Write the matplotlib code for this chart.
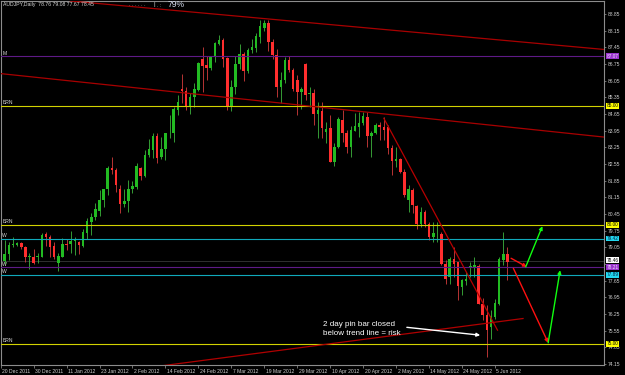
import matplotlib.pyplot as plt
import matplotlib.transforms as mtransforms
import numpy as np

plt.rcParams['font.family'] = ['Liberation Sans', 'DejaVu Sans']

# AUDJPY daily bars, 20 Dec 2011 .. 8 Jun 2012 (one bar per weekday)
opens = [77.20, 78.49, 78.77, 79.13, 79.16, 79.24, 79.05, 78.63, 78.66, 78.64,
         78.63, 79.60, 79.47, 79.10, 78.40, 78.65, 79.20, 79.18, 79.30, 79.26,
         79.10, 79.66, 80.13, 80.31, 80.59, 81.03, 81.48, 82.40, 82.30, 81.50,
         80.87, 81.00, 81.52, 81.60, 82.37, 82.04, 82.92, 83.14, 83.72, 82.85,
         83.20, 83.84, 83.87, 84.83, 85.70, 85.63, 84.96, 85.38, 85.66, 86.94,
         86.70, 86.57, 87.03, 87.60, 87.76, 86.99, 84.93, 85.77, 86.75, 87.15,
         86.47, 87.35, 87.41, 87.90, 88.25, 88.49, 87.69, 87.13, 85.80, 86.08,
         86.92, 86.50, 86.08, 85.59, 86.75, 85.50, 85.52, 84.65, 84.79, 83.91,
         84.05, 82.65, 83.25, 84.40, 83.84, 83.25, 83.95, 84.12, 84.26, 84.51,
         83.74, 83.84, 84.19, 84.12, 84.12, 83.21, 82.69, 82.74, 82.22, 81.04,
         81.45, 80.78, 80.03, 80.55, 80.05, 79.47, 79.68, 79.60, 78.37, 77.81,
         78.58, 78.42, 77.39, 77.65, 78.21, 78.24, 78.28, 76.69, 76.20, 75.69,
         76.13, 76.66, 78.53, 78.76]
highs = [78.50, 79.35, 79.28, 79.47, 79.28, 79.28, 79.10, 78.80, 79.00, 78.80,
         79.66, 79.70, 79.56, 79.28, 78.80, 79.45, 79.42, 79.75, 79.50, 79.30,
         79.80, 80.27, 80.50, 80.90, 81.45, 81.52, 82.46, 82.83, 82.37, 81.67,
         81.52, 81.87, 81.85, 82.58, 82.44, 83.14, 83.58, 83.84, 83.84, 83.70,
         83.87, 84.60, 84.96, 85.45, 86.33, 85.77, 85.54, 85.94, 86.85, 87.45,
         87.08, 87.08, 87.69, 87.97, 87.83, 87.03, 86.08, 87.08, 87.59, 87.27,
         87.41, 87.78, 88.04, 88.60, 88.60, 88.60, 87.78, 87.37, 86.43, 87.05,
         87.10, 86.60, 86.29, 85.80, 86.80, 85.77, 85.69, 85.17, 85.17, 84.33,
         84.61, 83.42, 84.54, 84.82, 83.98, 84.14, 84.70, 84.75, 84.75, 84.75,
         83.95, 84.26, 84.33, 84.51, 84.19, 83.35, 83.28, 82.79, 82.32, 81.67,
         81.53, 80.83, 80.76, 80.62, 80.12, 80.12, 80.12, 79.70, 78.51, 78.65,
         79.07, 78.45, 77.74, 78.02, 78.45, 78.65, 78.35, 76.94, 76.62, 76.41,
         76.90, 78.65, 79.70, 79.08]
lows = [77.10, 78.37, 78.51, 79.08, 79.10, 79.00, 78.45, 78.16, 78.37, 78.40,
        78.63, 79.10, 78.65, 78.58, 78.05, 78.63, 78.94, 78.80, 78.73, 78.77,
        79.07, 79.40, 79.56, 80.20, 80.36, 80.76, 81.25, 82.15, 81.38, 80.50,
        80.76, 80.55, 81.32, 81.52, 81.87, 82.02, 82.85, 82.79, 82.60, 82.74,
        82.72, 83.63, 83.49, 84.60, 85.10, 84.82, 84.65, 84.96, 85.63, 85.59,
        86.08, 86.50, 86.85, 87.55, 86.61, 84.82, 84.79, 85.49, 86.52, 86.05,
        86.39, 87.20, 87.27, 87.65, 88.15, 87.31, 86.95, 85.35, 85.10, 85.95,
        86.40, 85.60, 84.60, 84.84, 85.24, 84.96, 84.19, 83.63, 83.63, 83.44,
        82.62, 82.46, 83.21, 83.49, 83.00, 82.86, 83.92, 83.70, 84.19, 83.25,
        82.83, 83.81, 83.56, 83.56, 82.99, 82.09, 82.44, 82.16, 81.18, 80.54,
        80.48, 79.84, 79.91, 79.91, 79.35, 79.28, 79.28, 78.30, 77.53, 77.53,
        77.81, 76.83, 77.04, 77.46, 77.81, 77.81, 76.66, 75.99, 74.45, 75.18,
        76.06, 76.62, 78.30, 77.67]
closes = [78.40, 78.79, 79.14, 79.18, 79.24, 79.05, 78.63, 78.68, 78.40, 78.66,
          79.56, 79.47, 79.07, 78.65, 78.68, 79.20, 79.15, 79.31, 79.40, 79.15,
          79.70, 80.17, 80.31, 80.68, 81.03, 81.48, 82.37, 82.30, 81.67, 80.87,
          80.99, 81.52, 81.62, 82.46, 82.05, 82.93, 83.16, 83.72, 82.79, 83.20,
          83.84, 83.86, 84.86, 85.14, 85.60, 84.96, 85.38, 85.68, 86.80, 86.68,
          86.58, 87.06, 87.65, 87.76, 86.96, 84.93, 85.77, 86.75, 87.17, 86.47,
          87.34, 87.45, 87.93, 88.35, 88.49, 87.69, 87.13, 85.80, 86.08, 86.92,
          86.50, 85.70, 85.59, 85.69, 85.45, 85.53, 84.65, 84.82, 84.05, 84.02,
          82.65, 83.25, 84.43, 83.84, 83.25, 83.98, 84.14, 84.28, 84.56, 83.72,
          83.84, 84.19, 84.12, 83.98, 83.21, 82.69, 82.74, 82.22, 81.25, 81.48,
          80.83, 80.03, 80.55, 80.03, 79.47, 79.66, 79.70, 78.35, 77.74, 78.58,
          78.37, 77.42, 77.67, 77.74, 78.28, 78.30, 76.69, 76.20, 75.57, 76.16,
          76.72, 78.58, 78.76, 78.45]

tick_bars = [0, 8, 16, 24, 32, 40, 48, 56, 64, 72, 80, 88, 96, 104, 112, 120]
tick_dates = ['20 Dec 2011', '30 Dec 2011', '11 Jan 2012', '23 Jan 2012', '2 Feb 2012',
              '14 Feb 2012', '24 Feb 2012', '7 Mar 2012', '19 Mar 2012', '29 Mar 2012',
              '10 Apr 2012', '20 Apr 2012', '2 May 2012', '14 May 2012', '24 May 2012',
              '5 Jun 2012']
price_ticks = [74.15, 74.85, 75.55, 76.25, 76.95, 77.65, 78.35, 79.05, 79.75, 80.45,
               81.15, 81.85, 82.55, 83.25, 83.95, 84.65, 85.35, 86.05, 86.75, 87.45,
               88.15, 88.85]
# 78.35 sits under the price boxes in the original, so its label stays hidden
price_labels = ['' if v == 78.35 else f'{v:.2f}' for v in price_ticks]

# horizontal levels
levels = [87.07, 85.00, 80.00, 79.42, 78.21, 77.89, 75.00]
level_tags = ['M', 'BRN', 'BRN', 'W', 'W', 'W', 'BRN']
level_colors = ['#5e1a86', '#d2d200', '#d2d200', '#10a9bb', '#5e1a86', '#10a9bb', '#d2d200']
box_colors = ['#9933cc', '#ffff00', '#ffff00', '#22d8ee', '#9933cc', '#22d8ee', '#ffff00']
box_text = ['#f0e0ff', 'black', 'black', '#002040', '#f0e0ff', '#002040', 'black']
last_price = 78.46

# trend lines as (bar, price) pairs
upper_line = [(33.83, 89.13), (146.46, 87.36)]
middle_line = [(33.83, 85.73), (146.46, 83.68)]
support_line = [(39.4, 74.08), (126.8, 76.06)]
down_line = [(93.0, 84.47), (120.6, 75.57)]

# projected path arrows: start, end, colour
arrows = [((123.9, 78.59), (127.7, 78.23), '#ff1010'),
          ((127.45, 78.23), (131.5, 79.94), '#10ff10'),
          ((124.45, 78.17), (132.9, 75.04), '#ff1010'),
          ((132.9, 75.04), (135.8, 78.09), '#10ff10')]
note_arrow = ((98.6, 75.69), (116.4, 75.36))
note_pos = (78.25, 75.62)

o = np.array(opens)
h = np.array(highs)
l = np.array(lows)
c = np.array(closes)
x = np.arange(len(o))

fig = plt.figure(figsize=(6.25, 3.75), dpi=100, facecolor='black')
ax = fig.add_axes([0.001, 0.0267, 0.9654, 0.9707], facecolor='black')
ax.set_xlim(0, 146.45)
ax.set_ylim(74.108, 89.396)

up = c >= o
dn = ~up
ax.vlines(x[up], l[up], h[up], color='#3db43d', lw=0.6, zorder=2)
ax.bar(x[up], np.maximum(c - o, 0.03)[up], bottom=o[up], width=0.62, color='#22bb22', zorder=2.1)
ax.vlines(x[dn], l[dn], h[dn], color='#d43c3c', lw=0.6, zorder=2)
ax.bar(x[dn], np.maximum(o - c, 0.03)[dn], bottom=c[dn], width=0.62, color='#ff2e2e', zorder=2.1)

ax.axhline(last_price, color='#383838', lw=0.6, zorder=1)
tag_tr = mtransforms.blended_transform_factory(ax.transAxes, ax.transData)
box_tr = tag_tr + mtransforms.ScaledTranslation(1.8 / 72, 0, fig.dpi_scale_trans)
for y, tag, lc, bc, tc in zip(levels, level_tags, level_colors, box_colors, box_text):
    ax.axhline(y, color=lc, lw=0.8, zorder=3)
    ax.text(0.003, y + 0.03, tag, transform=tag_tr, va='bottom', ha='left',
            fontsize=3.6, color='#d8d8d8', zorder=4)
    ax.text(1.0, y, f'{y:.2f}', transform=box_tr, ha='left', va='center', fontsize=3.4,
            color=tc, clip_on=False, zorder=10,
            bbox=dict(boxstyle='square,pad=0.1', fc=bc, ec='none'))
ax.text(1.0, last_price + 0.05, f'{last_price:.2f}', transform=box_tr, ha='left', va='center',
        fontsize=3.4, color='black', clip_on=False, zorder=11,
        bbox=dict(boxstyle='square,pad=0.1', fc='white', ec='none'))

ax.axline(upper_line[0], upper_line[1], color='#a80000', lw=0.9, zorder=3)
ax.axline(middle_line[0], middle_line[1], color='#a80000', lw=0.9, zorder=3)
ax.plot(*zip(*support_line), color='#b00000', lw=0.9, zorder=3)
ax.plot(*zip(*down_line), color='#b80000', lw=0.9, zorder=3)

for start, end, col in arrows:
    ax.annotate('', xy=end, xytext=start, zorder=5,
                arrowprops=dict(arrowstyle='-|>', color=col, lw=1.0, mutation_scale=5,
                                shrinkA=0, shrinkB=0))
ax.annotate('', xy=note_arrow[1], xytext=note_arrow[0], zorder=5,
            arrowprops=dict(arrowstyle='-|>', color='white', lw=1.0, mutation_scale=5,
                            shrinkA=0, shrinkB=0))
ax.text(note_pos[0], note_pos[1], '2 day pin bar closed\nbelow trend line = risk',
        color='white', fontsize=5.8, va='center', ha='left', linespacing=1.25, zorder=6)

# header
ax.text(0.004, 0.989, 'AUDJPY,Daily  78.76 79.08 77.67 78.45', transform=ax.transAxes,
        fontsize=3.7, color='#d8d8d8', va='center', ha='left')
ax.text(0.213, 0.987, '· · · · · ·', transform=ax.transAxes, fontsize=3.5,
        color='#c8c8c8', va='center', ha='left')
ax.text(0.254, 0.989, '|', transform=ax.transAxes, fontsize=4.5,
        color='#c8c8c8', va='center', ha='center')
ax.text(0.259, 0.987, '. :', transform=ax.transAxes, fontsize=3.5,
        color='#c8c8c8', va='center', ha='left')
ax.text(0.29, 0.989, '79%', transform=ax.transAxes, fontsize=6.2,
        color='#d4dcec', va='center', ha='center')

# axes styling
for s in ax.spines.values():
    s.set_color('#8c8c8c')
    s.set_linewidth(0.8)
ax.yaxis.tick_right()
ax.set_yticks(price_ticks)
ax.set_yticklabels(price_labels)
ax.set_xticks(tick_bars)
ax.set_xticklabels(tick_dates)
ax.tick_params(axis='y', colors='#9a9a9a', labelcolor='#d0d0d0', labelsize=3.6,
               length=1.5, width=0.5, pad=1)
ax.tick_params(axis='x', colors='#9a9a9a', labelcolor='#d0d0d0', labelsize=3.6,
               length=2, width=0.5, pad=0.6)
shift = mtransforms.ScaledTranslation(1 / 72, 0, fig.dpi_scale_trans)
for lab in ax.get_xticklabels():
    lab.set_ha('left')
    lab.set_transform(lab.get_transform() + shift)

fig.savefig('out.png', dpi=100, facecolor='black')
